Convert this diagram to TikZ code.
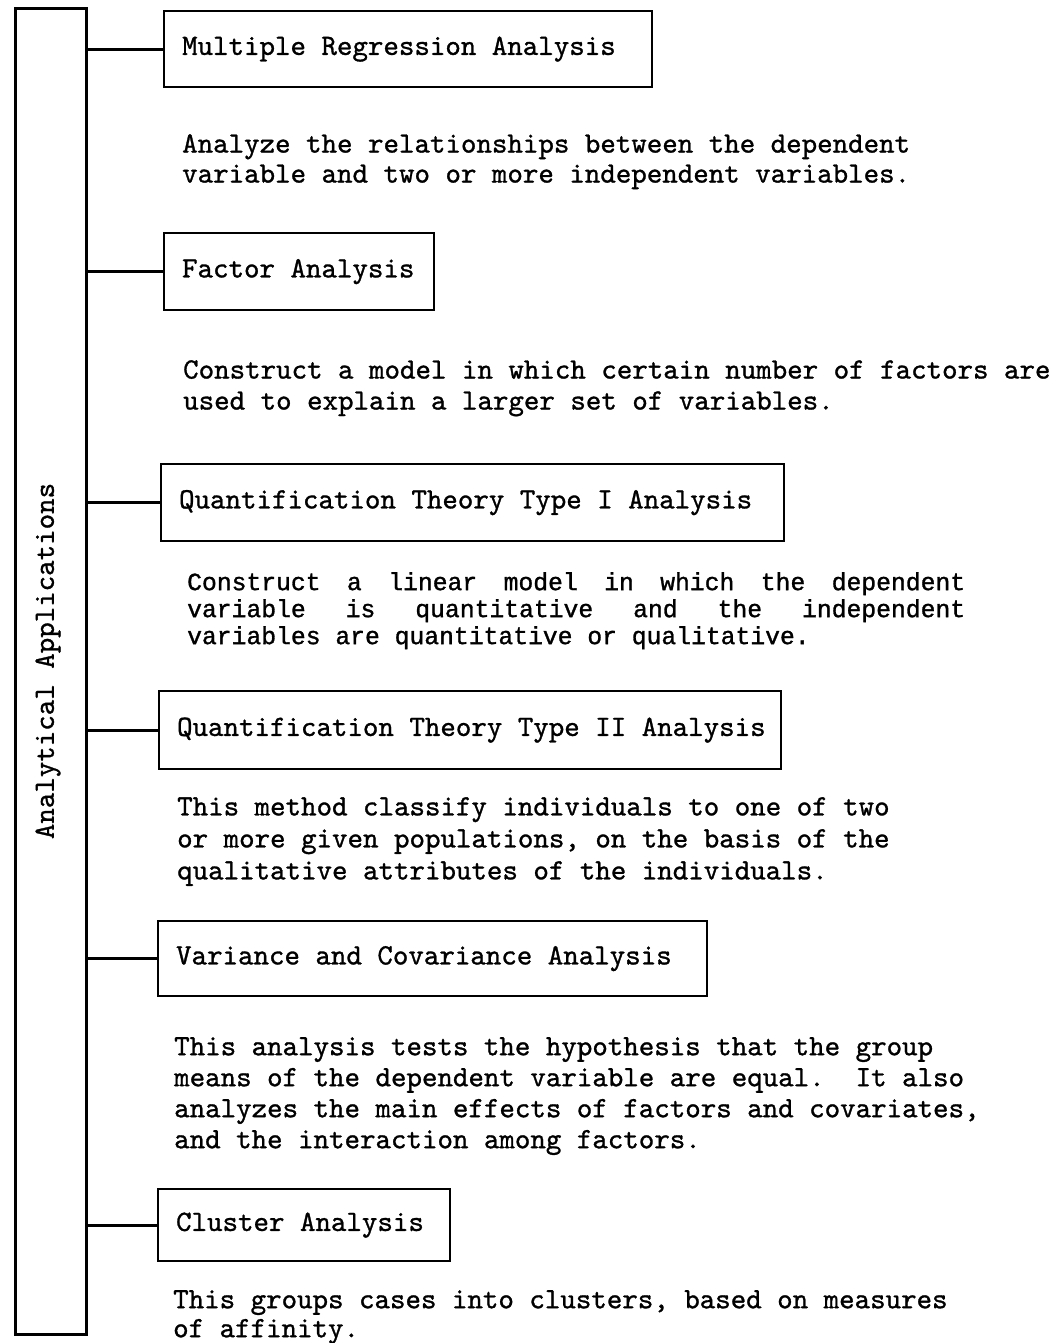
\documentclass[tikz,border=0pt]{standalone}
\usepackage{fontspec}
\newfontfamily\monofnt[FakeBold=1]{lmmono10-regular.otf}
\newfontfamily\courierfnt[FakeBold=1.2]{Liberation Mono}
\newcommand{\labfnt}{\monofnt\fontsize{29.5}{30}\selectfont}
\newcommand{\descfnt}[1]{\monofnt\fontsize{29.5}{#1}\selectfont}
% a label set flush left in a field of fixed width
\newcommand{\field}[2]{\makebox[#1][l]{#2}}
\begin{document}
\begin{tikzpicture}[x=1pt,y=-1pt,
  trunk/.style={draw, line width=3.2pt, minimum width=71pt, minimum height=1326pt,
    inner sep=0pt, anchor=north west},
  method/.style={draw, line width=2.2pt, anchor=north west, inner xsep=18pt,
    inner ysep=0pt, font=\labfnt},
  conn/.style={line width=3pt},
  desc/.style={anchor=north west, inner sep=0pt, align=left},
]
\useasboundingbox[fill=white] (0,0) rectangle (1062,1343);

% vertical trunk with its rotated title
\node[trunk] (trunk) at (13.5,7) {};
\node[rotate=90, font=\labfnt, inner sep=0pt] (title) at (48,661) {Analytical Applications};

% method boxes
\node[method, minimum height=76pt] (b1) at (163,10) {\field{452pt}{Multiple Regression Analysis}};
\node[method, minimum height=77pt] (b2) at (163,232) {\field{234pt}{Factor Analysis}};
\node[method, minimum height=77pt] (b3) at (160,463) {\field{587pt}{Quantification Theory Type I Analysis}};
\node[method, minimum height=78pt] (b4) at (158,690) {\field{586pt}{Quantification Theory Type II Analysis}};
\node[method, minimum height=75pt] (b5) at (157,920) {\field{513pt}{Variance and Covariance Analysis}};
\node[method, minimum height=72pt] (b6) at (157,1188) {\field{256pt}{Cluster Analysis}};

% branches from the trunk
\foreach \b in {b1,b2,b3,b4,b5,b6}
  \draw[conn] (trunk.east |- \b.west) -- (\b.west);

% descriptions
\node[desc, font=\descfnt{30}] (d1) at (182,134)
  {Analyze the relationships between the dependent\\variable and two or more independent variables.};
\node[desc, font=\descfnt{31}] (d2) at (183,360)
  {Construct a model in which certain number of factors are\\used to explain a larger set of variables.};
\node[desc, font=\courierfnt\fontsize{24.7}{27}\selectfont] (d3) at (187,572)
  {\makebox[778pt][s]{Construct\hfill a\hfill linear\hfill model\hfill in\hfill which\hfill the\hfill dependent}\\
   \makebox[778pt][s]{variable\hfill is\hfill quantitative\hfill and\hfill the\hfill independent}\\
   variables are quantitative or qualitative.};
\node[desc, font=\descfnt{32}] (d4) at (177,797)
  {This method classify individuals to one of two\\or more given populations, on the basis of the\\qualitative attributes of the individuals.};
\node[desc, font=\descfnt{31}] (d5) at (174,1037)
  {This analysis tests the hypothesis that the group\\means of the dependent variable are equal.\ \ It also\\analyzes the main effects of factors and covariates,\\and the interaction among factors.};
\node[desc, font=\descfnt{29}] (d6) at (173,1290)
  {This groups cases into clusters, based on measures\\of affinity.};
\end{tikzpicture}
\end{document}
